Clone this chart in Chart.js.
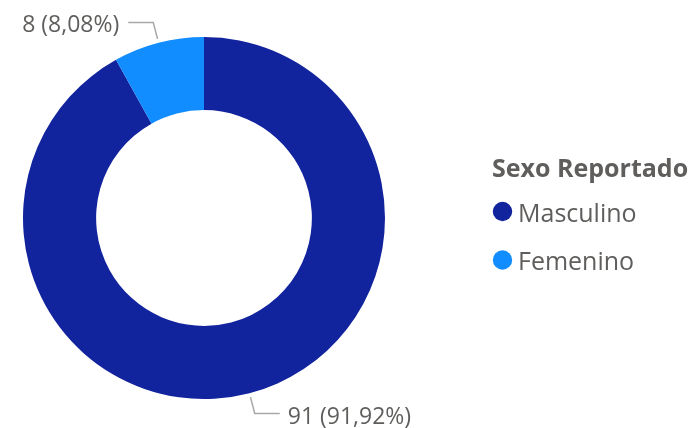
<!DOCTYPE html>
<html>
<head>
<meta charset="utf-8">
<script src="https://cdn.jsdelivr.net/npm/chart.js@4"></script>
<style>
  html, body { margin: 0; padding: 0; background: #fff; }
  #wrap { width: 694px; height: 428px; position: relative; }
</style>
</head>
<body>
<div id="wrap"><canvas id="sexo"></canvas></div>
<script>
const labels = ['Masculino', 'Femenino'];
const counts = [91, 8];
const colors = ['#12239E', '#118DFF'];
const legendTitle = 'Sexo Reportado';

const FONT = '"Segoe UI", "Open Sans", sans-serif';
const TEXT = '#605E5C';
const total = counts.reduce((a, b) => a + b, 0);

function pct(v) {
    return (v / total * 100).toFixed(2).replace('.', ',') + '%';
}

// leader lines + data labels, and a Power BI style legend on the right
const extras = {
    id: 'extras',
    afterDraw(chart) {
        const ctx = chart.ctx;
        const meta = chart.getDatasetMeta(0);
        ctx.save();
        ctx.font = '23px ' + FONT;
        ctx.textBaseline = 'alphabetic';
        meta.data.forEach((arc, i) => {
            const mid = (arc.startAngle + arc.endAngle) / 2;
            const r = arc.outerRadius;
            const x0 = arc.x + Math.cos(mid) * (r + 4);
            const y0 = arc.y + Math.sin(mid) * (r + 4);
            const x1 = arc.x + Math.cos(mid) * (r + 21);
            const y1 = arc.y + Math.sin(mid) * (r + 21);
            const left = Math.cos(mid) < 0;
            const x2 = x1 + (left ? -25 : 25);
            ctx.strokeStyle = '#A8A8A8';
            ctx.lineWidth = 1.5;
            ctx.beginPath();
            ctx.moveTo(x0, y0);
            ctx.lineTo(x1, y1);
            ctx.lineTo(x2, y1);
            ctx.stroke();
            ctx.fillStyle = TEXT;
            ctx.textAlign = left ? 'right' : 'left';
            ctx.fillText(counts[i] + ' (' + pct(counts[i]) + ')', x2 + (left ? -9 : 8), y1 + 10);
        });

        // legend
        ctx.textAlign = 'left';
        ctx.fillStyle = TEXT;
        ctx.font = 'bold 25px ' + FONT;
        ctx.fillText(legendTitle, 492, 177);
        ctx.font = '25px ' + FONT;
        labels.forEach((lab, i) => {
            const y = 211.5 + i * 48.5;
            ctx.fillStyle = colors[i];
            ctx.beginPath();
            ctx.arc(502.5, y, 9.7, 0, Math.PI * 2);
            ctx.fill();
            ctx.fillStyle = TEXT;
            ctx.fillText(lab, 518, y + 10);
        });
        ctx.restore();
    }
};

new Chart(document.getElementById('sexo'), {
    type: 'doughnut',
    data: {
        labels: labels,
        datasets: [{
            data: counts,
            backgroundColor: colors,
            borderWidth: 0,
            radius: 181,
            cutout: '59.6%'
        }]
    },
    options: {
        responsive: true,
        maintainAspectRatio: false,
        animation: false,
        layout: { padding: { left: 0, right: 286, top: 8, bottom: 0 } },
        plugins: {
            legend: { display: false },
            tooltip: { enabled: false }
        }
    },
    plugins: [extras]
});
</script>
</body>
</html>
